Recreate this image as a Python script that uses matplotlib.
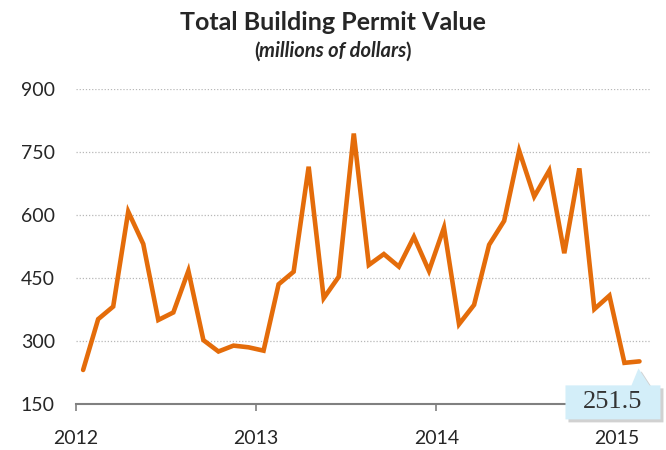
import matplotlib
matplotlib.use("Agg")
from matplotlib import pyplot as plt
from matplotlib import transforms
from matplotlib.patches import Polygon

# monthly values, Jan 2012 .. Feb 2015
values = [231, 352, 382, 608, 531, 350, 368, 467, 302, 275,
          289, 285, 277, 435, 465, 715, 402, 453, 794, 481,
          507, 477, 548, 467, 570, 340, 386, 529, 586, 753,
          644, 706, 509, 711, 376, 408, 248, 251.5]
years = ["2012", "2013", "2014", "2015"]
y_ticks = [150, 300, 450, 600, 750, 900]

orange = "#E46C0A"
text_color = "#262626"

fig = plt.figure(figsize=(6.66, 4.5), dpi=100)
ax = fig.add_axes([75.6 / 666, 46 / 450, 574.4 / 666, 315 / 450])

months = [i + 0.5 for i in range(len(values))]
ax.plot(months, values, color=orange, lw=3.3, solid_joinstyle="miter",
        solid_capstyle="round", zorder=3)

ax.set_xlim(0, 38.2)
ax.set_ylim(150, 900)
ax.set_yticks(y_ticks)
ax.set_yticklabels([str(v) for v in y_ticks])
ax.set_xticks([12 * i for i in range(len(years))])
ax.set_xticklabels(years)

for v in y_ticks[1:]:
    ax.axhline(v, color="#b8b8b8", lw=0.9, ls=(0, (1, 1.5)), zorder=1)

for side in ["top", "right", "left"]:
    ax.spines[side].set_visible(False)
ax.spines["bottom"].set_color("#808080")
ax.spines["bottom"].set_linewidth(1.5)

ax.tick_params(axis="y", length=0, pad=15, labelsize=14, labelcolor=text_color)
ax.tick_params(axis="x", length=5, width=1.2, color="#808080", pad=14,
               labelsize=14, labelcolor=text_color)
for lab in ax.get_xticklabels() + ax.get_yticklabels():
    lab.set_fontfamily("Lato")

# title + subtitle (bold parentheses, bold italic words)
fig.text(0.5, 0.951, "Total Building Permit Value", ha="center", va="center",
         fontsize=18, fontweight="bold", family="Lato", color=text_color)
sub_y = 0.886
mid = fig.text(0.5, sub_y, "millions of dollars", ha="center", va="center",
               fontsize=14.5, fontweight="bold", style="italic", family="Lato",
               color=text_color)
fig.canvas.draw()
bb = mid.get_window_extent().transformed(fig.transFigure.inverted())
fig.text(bb.x0, sub_y, "(", ha="right", va="center", fontsize=14.5,
         fontweight="bold", family="Lato", color=text_color)
fig.text(bb.x1 - 0.002, sub_y, ")", ha="left", va="center", fontsize=14.5,
         fontweight="bold", family="Lato", color=text_color)

# callout for the last value, offsets in pixels from the last point
pt = transforms.ScaledTranslation(months[-1], values[-1], ax.transData)
px = transforms.Affine2D().scale(1.0) + pt
box = [(-74, -24), (-8, -24), (-1, -7), (10, -24), (21, -24),
       (21, -58), (-74, -58)]
shadow = Polygon([(x + 3, y - 3) for x, y in box], closed=True,
                 transform=px, fc="#9a9a9a", ec="none", alpha=0.45,
                 zorder=4, clip_on=False)
callout = Polygon(box, closed=True, transform=px, fc="#d3eef9", ec="none",
                  zorder=5, clip_on=False)
ax.add_patch(shadow)
ax.add_patch(callout)
ax.text(-26.5, -41, str(values[-1]), transform=px, ha="center", va="center",
        fontsize=19, family="Liberation Serif", color="#333333", zorder=6,
        clip_on=False)

fig.savefig("out.png", dpi=100)
